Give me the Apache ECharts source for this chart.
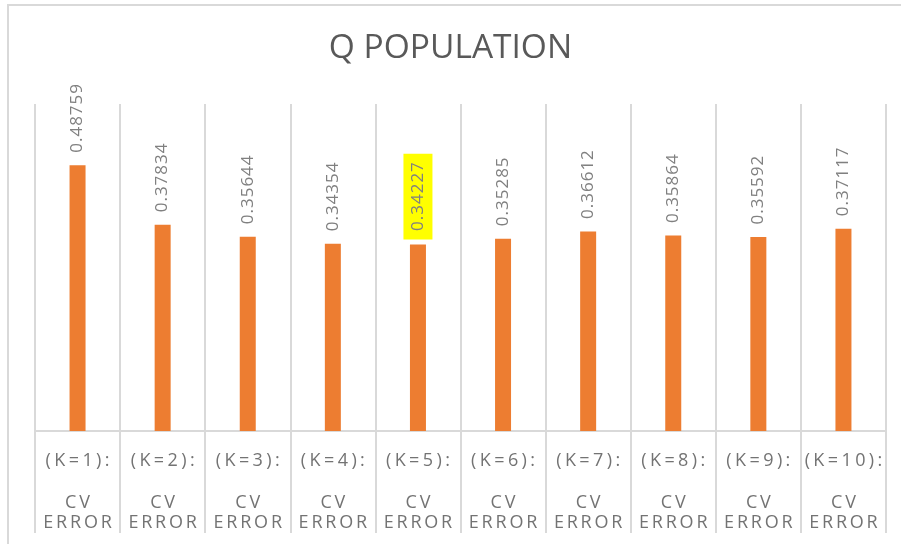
<!DOCTYPE html>
<html>
<head>
<meta charset="utf-8">
<script src="https://cdn.jsdelivr.net/npm/echarts@6/dist/echarts.min.js"></script>
<style>html,body{margin:0;padding:0;background:#fff;}#chart{width:901px;height:544px;}</style>
</head>
<body>
<div id="chart"></div>
<script>
var title = 'Q POPULATION';
var categories = ['(K=1):', '(K=2):', '(K=3):', '(K=4):', '(K=5):', '(K=6):', '(K=7):', '(K=8):', '(K=9):', '(K=10):'];
var subLabelLine1 = 'CV';
var subLabelLine2 = 'ERROR';
var values = [0.48759, 0.37834, 0.35644, 0.34354, 0.34227, 0.35285, 0.36612, 0.35864, 0.35592, 0.37117];
var highlightIndex = 4;

function spaced(str, style) {
  return str.split('').map(function (c) { return '{' + style + '|' + c + '}'; }).join('');
}

var FONT = '"Open Sans", "Noto Sans", sans-serif';
var chart = echarts.init(document.getElementById('chart'));

var seriesData = values.map(function (v, i) {
  var item = { value: v };
  if (i === highlightIndex) {
    item.label = {
      backgroundColor: '#ffff00',
      padding: [6, 8, 6, 8],
      distance: 5
    };
  }
  return item;
});

chart.setOption({
  animation: false,
  backgroundColor: '#ffffff',
  title: {
    text: title,
    left: 'center',
    top: 26,
    textStyle: { fontFamily: FONT, fontSize: 33.5, fontWeight: 'normal', color: '#595959' }
  },
  graphic: [{
    type: 'rect',
    shape: { x: 8, y: 5, width: 1000, height: 1000 },
    style: { fill: 'none', stroke: '#d9d9d9', lineWidth: 2 },
    silent: true
  }],
  grid: { left: 35, right: 15, top: 104, bottom: 113, containLabel: false },
  xAxis: {
    type: 'category',
    data: categories,
    boundaryGap: true,
    axisLine: { show: true, lineStyle: { color: '#d9d9d9', width: 2 } },
    axisTick: { show: true, length: 102, interval: 0, lineStyle: { color: '#d9d9d9', width: 2 } },
    splitLine: { show: true, interval: 0, lineStyle: { color: '#d9d9d9', width: 2 } },
    axisLabel: {
      interval: 0,
      margin: 19,
      fontFamily: FONT,
      fontSize: 18,
      color: '#737373',
      formatter: function (v) {
        return spaced(v, 'a') + '\n{g| }\n' + spaced(subLabelLine1, 'b') + '\n' + spaced(subLabelLine2, 'b');
      },
      rich: {
        a: { fontFamily: FONT, fontSize: 18, color: '#737373', lineHeight: 22, padding: [0, 1.7, 0, 1.7] },
        g: { fontSize: 10, lineHeight: 21 },
        b: { fontFamily: FONT, fontSize: 18, color: '#737373', lineHeight: 20, padding: [0, 1.4, 0, 1.4] }
      }
    }
  },
  yAxis: {
    type: 'value',
    min: 0,
    max: 0.6,
    show: false,
    splitLine: { show: false }
  },
  series: [{
    type: 'bar',
    data: seriesData,
    barWidth: 16,
    itemStyle: { color: '#ED7D31' },
    label: {
      show: true,
      position: 'top',
      rotate: 90,
      align: 'left',
      verticalAlign: 'middle',
      distance: 12,
      formatter: function (p) { return spaced(String(p.value), 'v'); },
      rich: {
        v: { fontFamily: FONT, fontSize: 17, color: '#808080', padding: [0, 0.5, 0, 0.5] }
      }
    }
  }]
});
</script>
</body>
</html>
